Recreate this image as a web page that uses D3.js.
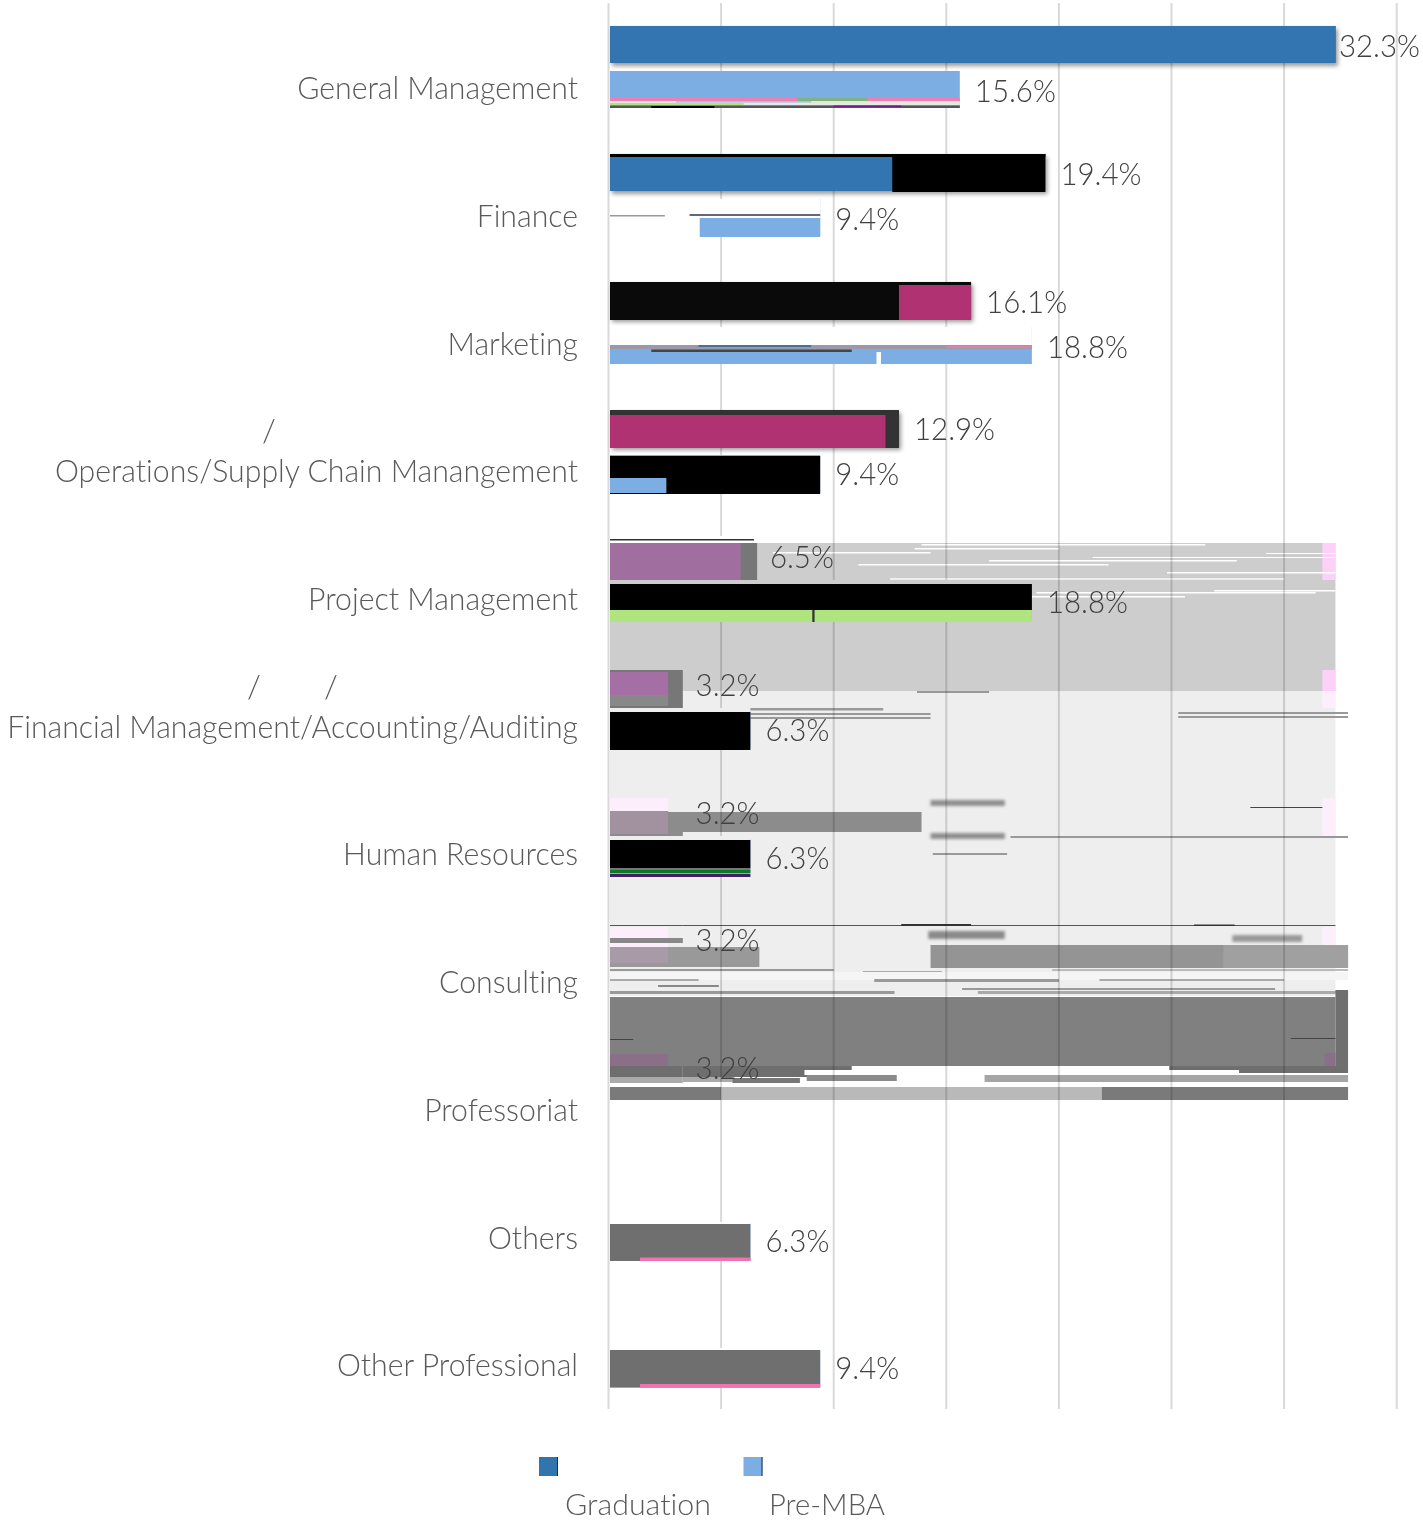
<!DOCTYPE html>
<html>
<head>
<meta charset="utf-8">
<script src="https://cdnjs.cloudflare.com/ajax/libs/d3/7.8.5/d3.min.js"></script>
<style>
  html, body { margin: 0; padding: 0; background: #fff; }
  svg { display: block; }
  text { font-family: Lato, "Open Sans", sans-serif; font-weight: 300; font-variant-ligatures: none; }
  .grid line { stroke: #d9d9d9; stroke-width: 2; mix-blend-mode: multiply; }
  .grid path, .cats path, .cats line { display: none; }
</style>
</head>
<body>
<div id="chart"></div>
<script>
const categories = ['General Management', 'Finance', 'Marketing', 'Operations/Supply Chain Manangement',
  'Project Management', 'Financial Management/Accounting/Auditing', 'Human Resources', 'Consulting',
  'Professoriat', 'Others', 'Other Professional'];
const seriesNames = ['Graduation', 'Pre-MBA'];
const graduation = [32.3, 19.4, 16.1, 12.9, 6.5, 3.2, 3.2, 3.2, 3.2, 0, 0];
const preMba = [15.6, 9.4, 18.8, 9.4, 18.8, 6.3, 6.3, 0, 0, 6.3, 9.4];
const gridTicks = [0, 5, 10, 15, 20, 25, 30, 35];

const width = 1423, height = 1521;
const margin = { top: 3, left: 608.5 };
const plotH = 1405;
const barStart = 1.5;
const colors = { Graduation: '#3274b0', 'Pre-MBA': '#7daee3' };

const x = d3.scaleLinear().domain([0, 35]).range([0, 788.2]);
// bars step a hair wider than the text does in the source
const yCat = d3.scaleBand().domain(categories).range([0, 1408]);
const yText = d3.scaleBand().domain(categories).range([0, plotH]);
const ySeries = d3.scaleBand().domain(seriesNames).range([0, yCat.bandwidth()])
  .paddingInner(0.178).paddingOuter(0.51);

const svg = d3.select('#chart').append('svg').attr('width', width).attr('height', height);
const defs = svg.append('defs');
defs.append('filter').attr('id', 'shadow')
  .attr('x', '-5%').attr('y', '-20%').attr('width', '115%').attr('height', '150%')
  .append('feDropShadow').attr('dx', 2).attr('dy', 3).attr('stdDeviation', 2)
  .attr('flood-color', '#000').attr('flood-opacity', 0.4);
defs.append('filter').attr('id', 'smear')
  .attr('x', '-10%').attr('y', '-40%').attr('width', '120%').attr('height', '180%')
  .append('feGaussianBlur').attr('stdDeviation', 1.5);

// the source picture is a damaged raster: these are the damaged patches, as
// [from %, to %, page y top, page y bottom, colour]
const damageBehindGrid = [
  [0.05, 32.28, 543, 691, '#cdcdcd'], [0.05, 32.28, 691, 996, '#eeeeee'],
  [31.7, 32.28, 543, 580, '#fdd0f8'], [31.7, 32.28, 670, 691, '#fdd0f8'], [31.7, 32.28, 691, 708, '#fdeefb'],
  [31.7, 32.28, 798, 836, '#fdeefb'], [31.7, 32.28, 927, 946, '#fdeefb'],
  [13.9, 26.5, 544, 545.5, '#fff'], [13.6, 20, 548, 549.5, '#fff'], [7.3, 14.3, 552, 553.5, '#fff'],
  [29.2, 32.28, 553, 554, '#fff'], [21.5, 32.28, 557, 558, '#fff'], [16.9, 27.9, 560, 561.5, '#fff'],
  [11.1, 22.2, 564, 565.5, '#fff'], [24.8, 32.28, 572, 573.5, '#fff'], [12.5, 30, 578, 580, '#eee'],
  [26.9, 32.28, 590, 591.5, '#fff'], [19, 31.4, 592, 593.5, '#fff'], [18.8, 25.6, 596, 597.5, '#fff'],
  [13.7, 16.9, 691.5, 692.5, '#444'], [5.6, 12.2, 708, 710.5, '#999'], [6.3, 14.3, 713, 715, '#999'], [6.3, 14.3, 717, 719, '#999'],
  [25.3, 32.84, 712, 714, '#999'], [25.3, 32.84, 716, 718, '#999'],
  [0.05, 13.9, 812, 832, '#8c8c8c'],
  [17.85, 32.84, 836, 838, '#999'], [14.4, 17.7, 853, 855, '#999'], [28.5, 31.7, 807, 808, '#444'],
  [0.05, 32.28, 925, 926, '#555'], [13, 16.1, 924, 926, '#333'], [26, 27.8, 924.5, 926, '#333'],
  [0.05, 6.7, 947, 967, '#999'],
  [14.3, 32.84, 945, 968, '#949494'], [27.3, 32.84, 945, 968, '#a0a0a0'],
  [0.05, 10, 969, 971, '#999'], [11.3, 14.8, 971, 972.5, '#aaa'], [19.7, 32.84, 969, 971, '#bbb'],
  [0.05, 32.84, 972, 980, '#f5f5f5'], [11.8, 20, 979, 982, '#999'], [21.8, 30, 979, 981, '#aaa'], [0.05, 4, 979, 981, '#aaa'],
  [2.2, 4.9, 985, 987, '#888'], [15.7, 29.6, 988, 990, '#999'], [0.05, 12.7, 991, 994, '#999'], [16.4, 32.84, 991, 994, '#aaa'],
  [0.05, 32.28, 997, 1066, '#808080'], [32.28, 32.84, 990, 1066, '#6f6f6f'],
  [31.8, 32.28, 1053, 1066, '#8a6f88'],
  [0.05, 1.1, 1039, 1040, '#444'], [30.3, 32.28, 1038, 1039, '#444'],
  [3.3, 10.8, 1066, 1077, '#6e6e6e'], [24.9, 32.84, 1066, 1073, '#6e6e6e'],
  [8.7, 28, 1070, 1075, '#fff'], [3.3, 5.5, 1077, 1082, '#aaa'], [5.5, 8.5, 1078, 1084, '#777'],
  [8.8, 12.8, 1075, 1081, '#8a8a8a'], [16.7, 32.84, 1075, 1082, '#a5a5a5'],
  [3.3, 32.84, 1083, 1085, '#fff'], [0.05, 5, 1087, 1100, '#7a7a7a'], [5, 21.9, 1087, 1100, '#b9b9b9'], [21.9, 32.84, 1087, 1100, '#7a7a7a']
];
const smearsBehindGrid = [
  [14.3, 17.6, 800, 806, '#8f8f8f'], [14.3, 17.6, 833, 839, '#8f8f8f'],
  [14.2, 17.6, 931, 939, '#8a8a8a'], [27.7, 30.8, 935, 942, '#999']
];
const damageOverBars = [
  [0, 15.6, 98, 101, '#ec7fb5'], [8.4, 11.5, 98, 101, '#7fb27f'], [0, 15.6, 101, 103, '#dfe7d6'],
  [3, 9, 101, 102.5, '#9cc4ec'], [0, 15.6, 103, 105.5, '#b0e47e'], [6, 15.6, 103, 105, '#e8e8e8'],
  [0, 15.6, 105.5, 108, '#555'], [1.9, 4.7, 106, 108, '#000'], [10, 13, 105.5, 107, '#702080'],
  [0, 19.4, 154, 157, '#000'], [12.6, 19.4, 154, 192, '#000'],
  [0, 9.4, 199, 237, '#fff'], [4.05, 9.4, 218, 237, '#7daee3'], [0, 2.5, 215, 216.5, '#999'], [3.6, 9.4, 214, 216, '#667'],
  [0, 16.1, 282, 320, '#0a0a0a'], [12.9, 16.1, 285, 320, '#b03272'],
  [0, 18.8, 327, 345, '#fff'], [0, 18.8, 345, 349, '#99a'], [4, 9, 345, 347, '#4a6f9a'], [15, 18.8, 346, 348, '#e080b0'],
  [1.9, 10.8, 349.5, 352, '#444'], [11.9, 12.1, 352, 365, '#fff'],
  [0, 12.9, 410, 448, '#333'], [0, 12.3, 415, 448, '#b03272'],
  [0, 9.4, 456, 494, '#000'], [0, 2.57, 478, 493, '#7daee3'],
  [0, 6.6, 536, 543, '#fff'], [0, 6.46, 539, 540.5, '#333'], [0, 6.6, 543, 581, '#777'], [0, 5.87, 543, 580, '#a06f9f'],
  [0, 18.8, 580, 584, '#cdcdcd'], [0, 18.8, 584, 610, '#000'], [0, 18.8, 610, 622, '#b0e47e'], [9.05, 9.15, 610, 622, '#333'],
  [0, 3.3, 664, 670, '#cdcdcd'], [0, 3.3, 670, 708, '#777'], [0, 2.65, 672, 695, '#a56fa5'], [0, 2.65, 695, 706, '#888'],
  [0, 6.3, 708, 712, '#eee'], [0, 6.3, 712, 750, '#000'],
  [0, 3.3, 792, 812, '#eee'], [0, 2.65, 798, 811, '#fdeefb'], [0, 3.3, 812, 836, '#8c8c8c'], [0, 2.65, 811, 834, '#a2929f'],
  [0, 6.3, 836, 840, '#eee'], [0, 6.3, 840, 868, '#000'], [0, 6.3, 868, 870, '#777'], [0, 6.3, 870, 873, '#0a7a2a'], [0, 6.3, 874, 877, '#402060'],
  [0, 3.3, 920, 947, '#eee'], [0, 3.3, 925, 926, '#555'], [0, 2.65, 927, 947, '#fdeefb'], [0, 3.3, 938, 943, '#888'], [0, 3.3, 947, 964, '#999'], [0, 2.65, 947, 963, '#a99aa8'],
  [0, 3.3, 1048, 1066, '#808080'], [0, 2.65, 1054, 1066, '#8a6f88'], [0, 3.3, 1066, 1077, '#6e6e6e'], [0, 3.3, 1077, 1083, '#aaa'], [0, 3.3, 1083, 1087, '#fff'], [0, 3.3, 1087, 1092, '#7a7a7a'],
  [0, 6.3, 1222, 1224, '#fff'], [0, 6.3, 1224, 1261, '#6f6f6f'], [1.4, 6.3, 1257.5, 1261, '#f072b0'],
  [0, 9.4, 1348, 1350, '#fff'], [0, 9.4, 1350, 1387, '#6f6f6f'], [1.4, 9.4, 1384, 1387, '#f072b0']
];

const chart = svg.append('g').attr('transform', `translate(${margin.left},${margin.top})`);

function paint(layer, patches) {
  return layer.selectAll('rect').data(patches).join('rect')
    .attr('x', d => Math.max(x(d[0]), barStart))
    .attr('width', d => x(d[1]) - Math.max(x(d[0]), barStart))
    .attr('y', d => d[2] - margin.top)
    .attr('height', d => d[3] - d[2])
    .attr('fill', d => d[4]);
}

paint(chart.append('g'), damageBehindGrid);
paint(chart.append('g').attr('filter', 'url(#smear)'), smearsBehindGrid);

chart.append('g').attr('class', 'grid')
  .attr('transform', `translate(0,${plotH + 1})`)
  .call(d3.axisBottom(x).offset(0).tickValues(gridTicks).tickSize(-plotH - 1).tickFormat(''));

const values = { Graduation: graduation, 'Pre-MBA': preMba };
const rows = seriesNames.flatMap(s => categories.map((c, i) => ({ s, c, i, v: values[s][i] })));

chart.append('g').selectAll('rect').data(rows.filter(d => d.v > 0)).join('rect')
  .attr('x', barStart)
  .attr('y', d => yCat(d.c) + ySeries(d.s))
  .attr('width', d => x(d.v) - barStart)
  .attr('height', ySeries.bandwidth())
  .attr('fill', d => colors[d.s])
  .attr('filter', d => d.s === 'Graduation' && d.i < 4 ? 'url(#shadow)' : null);

paint(chart.append('g'), damageOverBars);

// data labels; the longest one is pushed in against the bar so that it stays on the page
chart.append('g').selectAll('text').data(rows.filter(d => d.v > 0)).join('text')
  .attr('transform', d => {
    const lx = x(d.v) + (d.v > 30 ? 3 : 15);
    const ly = yText(d.c) + ySeries(d.s) + ySeries.bandwidth() / 2 + 1.5;
    return `translate(${lx},${ly}) scale(0.92,1)`;
  })
  .attr('dy', '0.35em')
  .attr('font-size', 32)
  .attr('fill', '#404040')
  .text(d => d.v.toFixed(1) + '%');

// category labels sit a little under the middle of their band
const cats = svg.append('g').attr('class', 'cats')
  .attr('transform', `translate(${578},${margin.top})`)
  .call(d3.axisLeft(yText).tickSize(0).tickPadding(0).offset(0));
cats.selectAll('.tick text')
  .attr('x', 0)
  .attr('y', 22)
  .attr('transform', 'scale(0.945,1)')
  .attr('font-size', 32)
  .attr('fill', '#595959');

// stray slashes left above two of the labels
const straySlashes = [[3, 302], [5, 317], [5, 240]];
cats.selectAll('.stray').data(straySlashes).join('text')
  .attr('class', 'stray')
  .attr('text-anchor', 'end')
  .attr('x', d => -d[1])
  .attr('y', d => yText(categories[d[0]]) + yText.bandwidth() / 2 - 18)
  .attr('dy', '0.32em')
  .attr('font-size', 32)
  .attr('fill', '#595959')
  .text('/');

const legendText = { Graduation: 146, 'Pre-MBA': 116 };
const legend = svg.append('g').selectAll('g').data(seriesNames).join('g')
  .attr('transform', (d, i) => `translate(${i ? 743.5 : 539},1457)`);
legend.append('rect').attr('width', 19).attr('height', 19).attr('fill', d => colors[d]);
legend.append('rect').attr('x', 18).attr('width', 1).attr('height', 19).attr('fill', '#1c2f45');
legend.append('text')
  .attr('x', (d, i) => i ? 25.5 : 26)
  .attr('y', 57.5)
  .attr('font-size', 30)
  .attr('fill', '#595959')
  .attr('textLength', d => legendText[d])
  .attr('lengthAdjust', 'spacingAndGlyphs')
  .text(d => d);
</script>
</body>
</html>
